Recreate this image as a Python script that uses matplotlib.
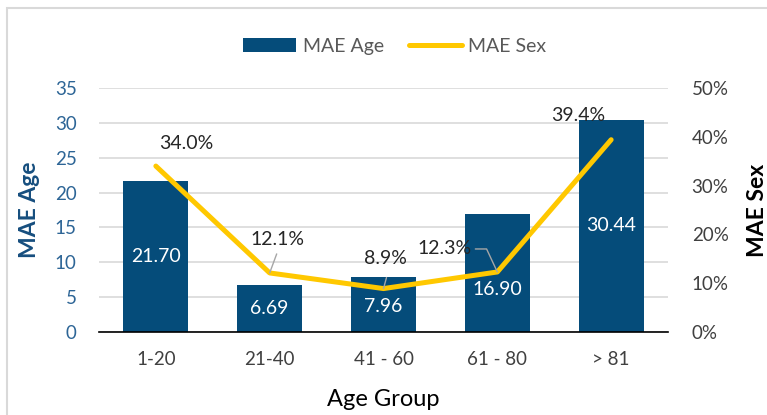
import matplotlib
matplotlib.use("Agg")
import matplotlib.pyplot as plt
from matplotlib.patches import Rectangle

plt.rcParams['font.family'] = ['Lato', 'DejaVu Sans']

groups = ["1-20", "21-40", "41 - 60", "61 - 80", "> 81"]
mae_age = [21.70, 6.69, 7.96, 16.90, 30.44]
mae_sex = [0.340, 0.121, 0.089, 0.123, 0.394]

BAR = "#054C7A"
GOLD = "#FFC800"
BLUE_TXT = "#2D6596"
GREY = "#404040"

fig = plt.figure(figsize=(7.67, 4.15), dpi=100)
fig.patches.append(Rectangle((0.009, -0.01), 1.2, 0.99, transform=fig.transFigure,
                             fill=False, edgecolor="#D9D9D9", linewidth=1.5))
ax = fig.add_axes([0.129, 0.2, 0.742, 0.588])
x = range(len(groups))
bars = ax.bar(x, mae_age, width=0.57, color=BAR, zorder=2, label="MAE Age")
ax.set_ylim(0, 35)
ax.set_xlim(-0.5, 4.5)
ax.set_yticks(range(0, 36, 5))
ax.grid(axis="y", color="#D9D9D9", linewidth=1.2, zorder=0)
ax.set_axisbelow(True)
for s in ["top", "right", "left"]:
    ax.spines[s].set_visible(False)
ax.spines["bottom"].set_color("black")
ax.spines["bottom"].set_linewidth(1.2)
ax.tick_params(axis="y", length=0, labelsize=13.5, colors=BLUE_TXT, pad=16)
ax.tick_params(axis="x", length=0, labelsize=13.5, labelcolor=GREY, pad=14)
ax.set_xticks(list(x))
ax.set_xticklabels(groups)
ax.set_ylabel("MAE Age", fontsize=16.5, fontweight="bold", color="#164E7E")
ax.yaxis.set_label_coords(-0.104, 0.5)
ax.set_xlabel("Age Group", fontsize=17, color="black")
ax.xaxis.set_label_coords(0.5, -0.235)

# bar value labels, centred; the 61-80 one was nudged down in the original
bar_nudge = [0, 0, -2, -16, 0]
for b, v, dy in zip(bars, mae_age, bar_nudge):
    ax.annotate(f"{v:.2f}", (b.get_x() + b.get_width() / 2, v / 2), xytext=(0, dy),
                textcoords="offset pixels", ha="center", va="center",
                color="white", fontsize=14, zorder=5)

ax2 = ax.twinx()
ax2.plot(list(x), mae_sex, color=GOLD, linewidth=3.6, solid_capstyle="round", zorder=3, label="MAE Sex")
ax2.set_ylim(0, 0.5)
ax2.set_yticks([0, 0.1, 0.2, 0.3, 0.4, 0.5])
ax2.set_yticklabels([f"{int(round(t*100))}%" for t in ax2.get_yticks()])
ax2.tick_params(axis="y", length=0, labelsize=13.5, colors=GREY, pad=17)
for s in ["top", "right", "left", "bottom"]:
    ax2.spines[s].set_visible(False)
ax2.set_ylabel("MAE Sex", fontsize=16.5, fontweight="bold", color="black")
ax2.yaxis.set_label_coords(1.138, 0.5)

# line data labels, offsets in pixels from each point
offsets = [(30, 23), (8, 33), (2, 30), (-53, 23), (-33, 24)]
for i, (v, off) in enumerate(zip(mae_sex, offsets)):
    ax2.annotate(f"{v*100:.1f}%", (i, v), xytext=off, textcoords="offset pixels",
                 ha="center", va="center", fontsize=14, color="#262626", zorder=6)

# leader lines
lead = dict(arrowstyle="-", color="#A6A6A6", lw=1, shrinkA=0, shrinkB=0)
ax2.annotate("", (1, mae_sex[1]), xytext=(7, 19), textcoords="offset pixels", arrowprops=lead)
ax2.annotate("", (2, mae_sex[2]), xytext=(3, 11), textcoords="offset pixels", arrowprops=lead)
ax2.annotate("", (3, mae_sex[3]), xytext=(-22, 23), textcoords="offset pixels",
             arrowprops=dict(lead, connectionstyle="angle,angleA=0,angleB=115,rad=0"))

h1, l1 = ax.get_legend_handles_labels()
h2, l2 = ax2.get_legend_handles_labels()
fig.legend(h1 + h2, l1 + l2, loc="center", bbox_to_anchor=(0.515, 0.889), ncol=2,
           frameon=False, fontsize=14, labelcolor="#595959", handlelength=2.7,
           handleheight=0.7, columnspacing=1.3, handletextpad=0.35)

fig.savefig("out.png", dpi=100)
